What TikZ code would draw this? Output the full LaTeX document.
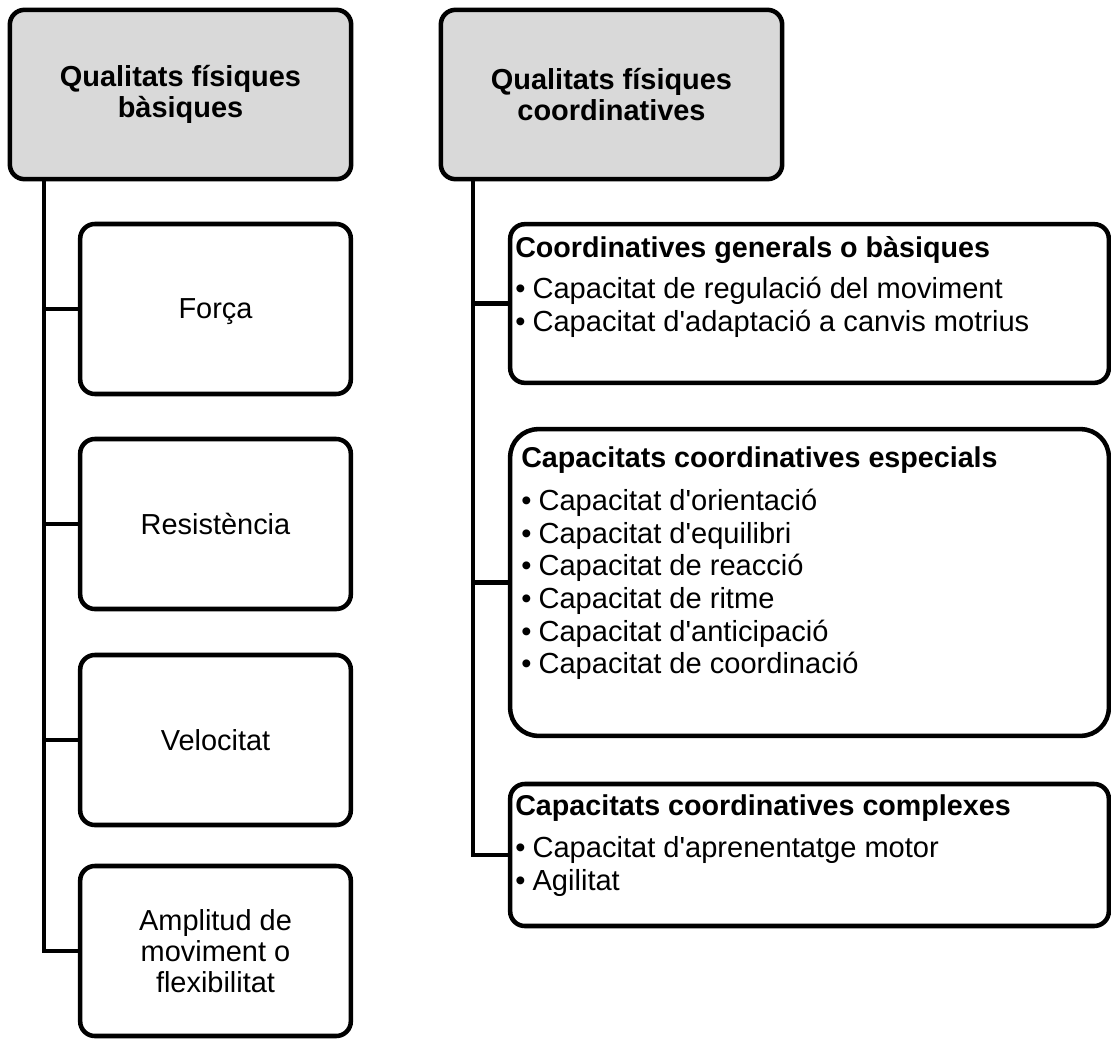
\documentclass[tikz,border=0pt]{standalone}
\usepackage{fontspec}
\setmainfont{Liberation Sans}[Ligatures=TeXOff]
\definecolor{hdrgray}{HTML}{D9D9D9}
\newcommand\bul{\makebox[13pt][l]{•}}
\begin{document}
\begin{tikzpicture}[x=0.75pt,y=-0.75pt,
  lw/.style={line width=3.4pt},
  boxbase/.style={draw=black, lw, inner sep=0pt, rounded corners=11pt},
  hdrbox/.style={boxbase, fill=hdrgray, minimum width=256pt, minimum height=127pt,
     align=center, font=\fontsize{21.7pt}{23pt}\selectfont\bfseries},
  leftbox/.style={boxbase, fill=white, minimum width=203pt, minimum height=127.5pt,
     align=center, font=\fontsize{21.7pt}{23.5pt}\selectfont},
  rightbox/.style={boxbase, fill=white, minimum width=449pt},
  rtext/.style={anchor=north west, inner sep=0pt, align=left,
     font=\fontsize{21.8pt}{24.4pt}\selectfont},
  conn/.style={draw=black, lw}
]
\useasboundingbox (0,0) rectangle (1111,1039);

% left column
\node[hdrbox] (hb) at (180.5,94.5) {Qualitats físiques\\bàsiques};
\node[leftbox, text depth=0pt] (b1) at (215.5,309) {Força};
\node[leftbox] (b2) at (215.5,524) {Resistència};
\node[leftbox] (b3) at (215.5,740) {Velocitat};
\node[leftbox] (b4) at (215.5,951) {Amplitud de\\moviment o\\flexibilitat};
\coordinate (lt) at (44,179);
\draw[conn] (lt) |- (b4.west);
\draw[conn] (b1.west) -- (b1.west -| lt);
\draw[conn] (b2.west) -- (b2.west -| lt);
\draw[conn] (b3.west) -- (b3.west -| lt);

% right column
\node[hdrbox] (hc) at (611.5,94.5) {Qualitats físiques\\coordinatives};
\node[rightbox, minimum height=119pt] (c1) at (809.5,303.5) {};
\node[rightbox, minimum height=230pt, rounded corners=21pt] (c2) at (809.5,582.5) {};
\node[rightbox, minimum height=106.5pt] (c3) at (809.5,855) {};
\coordinate (rt) at (473,179);
\draw[conn] (rt) |- (c3.west);
\draw[conn] (c1.west) -- (c1.west -| rt);
\draw[conn] (c2.west) -- (c2.west -| rt);

\node[rtext] (t1) at (515,236) {\textbf{\fontsize{21.5pt}{24.4pt}\selectfont Coordinatives generals o bàsiques}\\[6.75pt]
  \bul Capacitat de regulació del moviment\\
  \bul Capacitat d'adaptació a canvis motrius};
\node[rtext] (t2) at (521,446) {\textbf{\fontsize{21.5pt}{24.4pt}\selectfont Capacitats coordinatives especials}\\[8.5pt]
  \bul Capacitat d'orientació\\
  \bul Capacitat d'equilibri\\
  \bul Capacitat de reacció\\
  \bul Capacitat de ritme\\
  \bul Capacitat d'anticipació\\
  \bul Capacitat de coordinació};
\node[rtext] (t3) at (515,794) {\textbf{\fontsize{21.5pt}{24.4pt}\selectfont Capacitats coordinatives complexes}\\[7.5pt]
  \bul Capacitat d'aprenentatge motor\\
  \bul Agilitat};
\end{tikzpicture}
\end{document}
